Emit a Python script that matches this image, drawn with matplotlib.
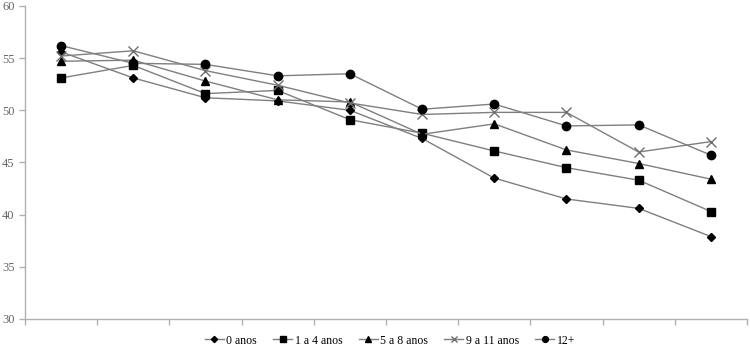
import matplotlib.pyplot as plt

plt.rcParams["font.family"] = ["Liberation Serif", "DejaVu Serif"]

series_labels = ["0 anos", "1 a 4 anos", "5 a 8 anos", "9 a 11 anos", "12+"]
x_points = list(range(10))

anos_0 = [55.6, 53.1, 51.2, 50.9, 50.0, 47.3, 43.5, 41.5, 40.6, 37.9]
anos_1_4 = [53.1, 54.3, 51.6, 51.9, 49.1, 47.8, 46.1, 44.5, 43.3, 40.3]
anos_5_8 = [54.7, 54.8, 52.8, 51.0, 50.8, 47.7, 48.7, 46.2, 44.9, 43.4]
anos_9_11 = [55.2, 55.7, 53.8, 52.4, 50.7, 49.6, 49.8, 49.8, 46.0, 47.0]
anos_12 = [56.2, 54.5, 54.4, 53.3, 53.5, 50.1, 50.6, 48.5, 48.6, 45.7]

all_series = [anos_0, anos_1_4, anos_5_8, anos_9_11, anos_12]
markers = ["D", "s", "^", "x", "o"]
sizes = [4.5, 5.5, 6, 7, 6]

fig = plt.figure(figsize=(7.5, 3.49), dpi=100)
ax = fig.add_axes([0.0333, 0.086, 0.9627, 0.897])

for vals, lab, mk, ms in zip(all_series, series_labels, markers, sizes):
    ax.plot(x_points, vals, color="#7f7f7f", linewidth=1.0, marker=mk,
            markersize=ms, markerfacecolor="black",
            markeredgecolor="black" if mk != "x" else "#6f6f6f",
            markeredgewidth=1.0, label=lab)

ax.set_xlim(-0.5, 9.5)
ax.set_ylim(30, 60)
ax.set_yticks(range(30, 61, 5))
ax.set_xticks([i - 0.5 for i in range(11)])
ax.set_xticklabels([])

for side in ["top", "right"]:
    ax.spines[side].set_visible(False)
for side in ["left", "bottom"]:
    ax.spines[side].set_color("#b0b0b0")
    ax.spines[side].set_linewidth(1.0)
ax.tick_params(axis="both", colors="#b0b0b0", length=4, width=1.0, labelsize=9,
               labelcolor="#666666")

fig.legend(loc="center", bbox_to_anchor=(0.52, 0.024), ncol=5, frameon=False,
           fontsize=8.5, handlelength=1.6, handletextpad=0.2, columnspacing=1.4,
           markerscale=0.7)

fig.savefig("out.png", dpi=100)
